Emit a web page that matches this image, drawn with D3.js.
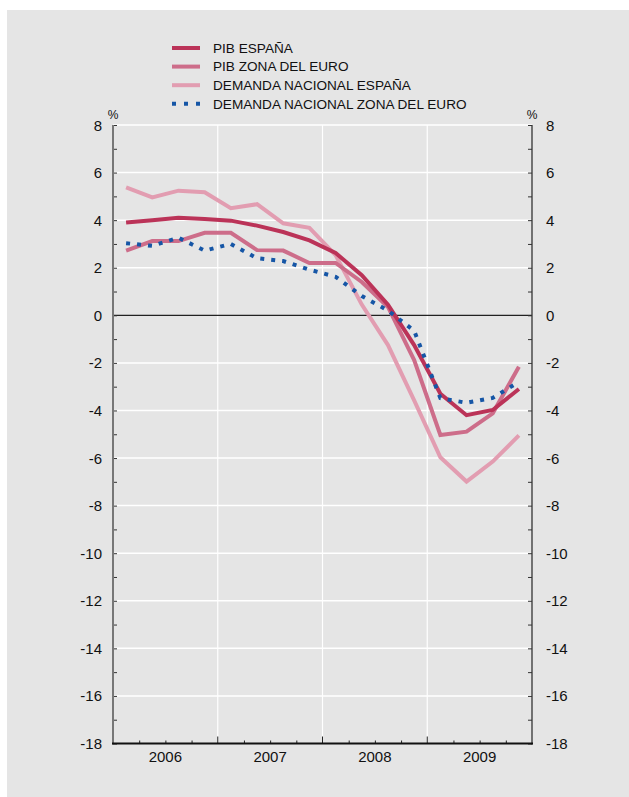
<!DOCTYPE html>
<html><head><meta charset="utf-8">
<script src="https://cdn.jsdelivr.net/npm/d3@7/dist/d3.min.js"></script>
<style>body{margin:0;background:#fff}svg{display:block}text{font-family:"Liberation Sans",Arial,sans-serif;fill:#111}</style>
</head><body><svg id="c" width="629" height="797"></svg>
<script>
// Data (quarterly, 2006Q1–2009Q4)
const years = ["2006","2007","2008","2009"];
const quarters = d3.range(16); // quarter index
const pibEspana = [3.9, 4.0, 4.1, 4.05, 3.98, 3.77, 3.5, 3.15, 2.62, 1.69, 0.45, -1.25, -3.3, -4.2, -3.98, -3.1];
const pibZonaEuro = [2.72, 3.12, 3.12, 3.47, 3.47, 2.74, 2.72, 2.2, 2.2, 1.4, 0.35, -1.88, -5.03, -4.89, -4.12, -2.16];
const demandaEspana = [5.38, 4.96, 5.24, 5.17, 4.5, 4.67, 3.87, 3.68, 2.53, 0.45, -1.25, -3.58, -5.97, -6.99, -6.15, -5.05];
const demandaZonaEuro = [3.03, 2.92, 3.26, 2.72, 3.0, 2.4, 2.28, 1.92, 1.62, 0.81, 0.2, -0.65, -3.48, -3.68, -3.47, -2.8];
const yTicks = [8,6,4,2,0,-2,-4,-6,-8,-10,-12,-14,-16,-18];
const seriesNames = ["PIB ESPAÑA","PIB ZONA DEL EURO","DEMANDA NACIONAL ESPAÑA","DEMANDA NACIONAL ZONA DEL EURO"];

const series = [
  {name: seriesNames[0], values: pibEspana, color: "#bb3358", dash: null},
  {name: seriesNames[1], values: pibZonaEuro, color: "#cd6d8a", dash: null},
  {name: seriesNames[2], values: demandaEspana, color: "#e29db1", dash: null},
  {name: seriesNames[3], values: demandaZonaEuro, color: "#1656a6", dash: "4,7"}
];

const svg = d3.select("#c");
svg.append("rect").attr("x",7).attr("y",10).attr("width",622).attr("height",787).attr("fill","#e5e5e5");

const L = 113, R = 532, T = 125, B = 743.5;
const x = d3.scaleLinear().domain([0,16]).range([L,R]);
const y = d3.scaleLinear().domain([-18,8]).range([B,T]);

// horizontal gridlines
svg.append("g").selectAll("line").data(yTicks.filter(v=>v!==0 && v!==-18 )).join("line")
  .attr("x1",L).attr("x2",R).attr("y1",d=>y(d)).attr("y2",d=>y(d))
  .attr("stroke","#fff").attr("stroke-width",1.5);
// vertical gridlines at year boundaries
svg.append("g").selectAll("line").data([4,8,12]).join("line")
  .attr("x1",d=>x(d)).attr("x2",d=>x(d)).attr("y1",T).attr("y2",B)
  .attr("stroke","#fff").attr("stroke-width",1.2);
// zero line
svg.append("line").attr("x1",L).attr("x2",R).attr("y1",y(0)).attr("y2",y(0)).attr("stroke","#222").attr("stroke-width",1.2);

// left axis
const minor = d3.range(-18,9,1);
const leftAx = svg.append("g").attr("transform",`translate(${L},0)`)
  .call(d3.axisRight(y).tickValues(minor).tickSize(4).tickFormat(""));
leftAx.select(".domain").remove();
leftAx.selectAll("line").attr("stroke","#333");
svg.append("line").attr("x1",L).attr("x2",L).attr("y1",T).attr("y2",B+1).attr("stroke","#777").attr("stroke-width",2);
svg.append("g").selectAll("text").data(yTicks).join("text")
  .attr("x",L-11).attr("y",d=>y(d)+5.5).attr("text-anchor","end").attr("font-size",15).text(d=>d);

// right axis
const rightAx = svg.append("g").attr("transform",`translate(${R},0)`)
  .call(d3.axisLeft(y).tickValues(minor).tickSize(4).tickFormat(""));
rightAx.select(".domain").remove();
rightAx.selectAll("line").attr("stroke","#333");
svg.append("line").attr("x1",R).attr("x2",R).attr("y1",T).attr("y2",B+1).attr("stroke","#333").attr("stroke-width",1.3);
svg.append("g").selectAll("text").data(yTicks).join("text")
  .attr("x",R+14).attr("y",d=>y(d)+5.5).attr("text-anchor","start").attr("font-size",15).text(d=>d);

// % labels
svg.append("text").attr("x",L).attr("y",T-6).attr("text-anchor","middle").attr("font-size",12).text("%");
svg.append("text").attr("x",R).attr("y",T-6).attr("text-anchor","middle").attr("font-size",12).text("%");

// bottom axis
const botAx = svg.append("g").attr("transform",`translate(0,${B})`)
  .call(d3.axisTop(x).tickValues(d3.range(1,16).filter(d=>d%4!==0)).tickSize(3).tickFormat(""));
botAx.select(".domain").remove();
botAx.selectAll("line").attr("stroke","#222");
svg.append("g").selectAll("line").data([4,8,12]).join("line")
  .attr("x1",d=>x(d)).attr("x2",d=>x(d)).attr("y1",B).attr("y2",B-7).attr("stroke","#222").attr("stroke-width",1);
svg.append("line").attr("x1",L-1).attr("x2",R+1).attr("y1",B).attr("y2",B).attr("stroke","#111").attr("stroke-width",1.8);
svg.append("g").selectAll("text").data(years).join("text")
  .attr("x",(d,i)=>x(i*4+2)).attr("y",B+18).attr("text-anchor","middle").attr("font-size",15).text(d=>d);

// lines
const line = d3.line().x((d,i)=>x(i+0.5)).y(d=>y(d));
[2,1,0].forEach(k=>{
  const s = series[k];
  svg.append("path").datum(s.values).attr("d",line).attr("fill","none")
    .attr("stroke",s.color).attr("stroke-width",4).attr("stroke-linejoin","miter");
});
svg.append("path").datum(series[3].values).attr("d",line).attr("fill","none")
  .attr("stroke",series[3].color).attr("stroke-width",4).attr("stroke-dasharray",series[3].dash);

// legend
const lg = svg.append("g");
series.forEach((s,i)=>{
  const yy = 48 + i*18.6;
  lg.append("line").attr("x1",172).attr("x2",200).attr("y1",yy).attr("y2",yy)
    .attr("stroke",s.color).attr("stroke-width",4).attr("stroke-dasharray",s.dash ? "4,8" : null);
  lg.append("text").attr("x",213).attr("y",yy+4.7).attr("font-size",13.6).text(s.name);
});
</script></body></html>
